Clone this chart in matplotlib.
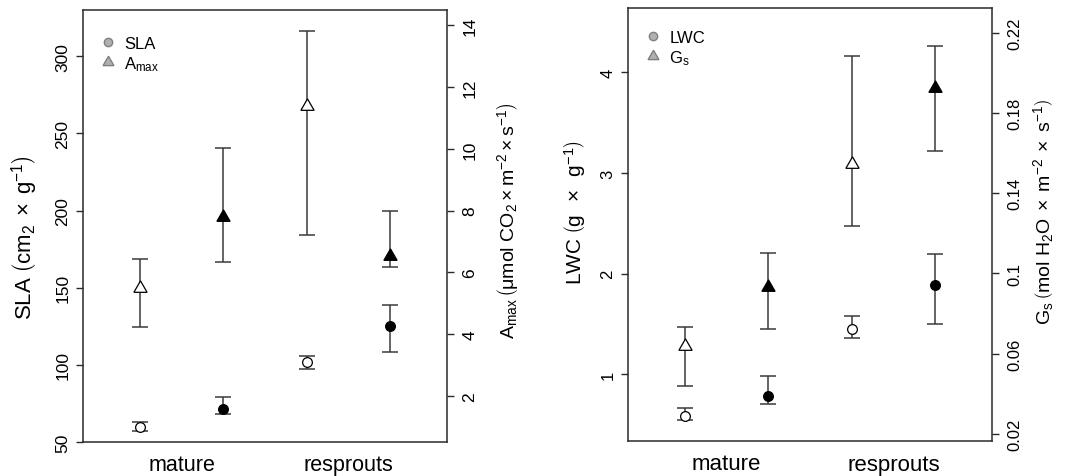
import matplotlib
matplotlib.use("Agg")
import matplotlib.pyplot as plt
from matplotlib.lines import Line2D

plt.rcParams['font.family'] = ['Liberation Sans', 'DejaVu Sans']
plt.rcParams['mathtext.fontset'] = 'custom'
plt.rcParams['mathtext.rm'] = 'Liberation Sans'
plt.rcParams['mathtext.it'] = 'Liberation Sans:italic'
plt.rcParams['mathtext.bf'] = 'Liberation Sans:bold'

# four groups per panel: open / filled symbols
positions = [1, 2, 3, 4]
filled = [False, True, False, True]
groups = ['mature', 'resprouts']
group_pos = [1.5, 3.5]

# left panel
sla_mean = [59.7, 71.4, 101.7, 125.4]
sla_lo = [56.9, 68.0, 97.3, 108.6]
sla_hi = [62.8, 79.0, 106.0, 138.8]
amax_mean = [5.48, 7.79, 11.39, 6.52]
amax_lo = [4.24, 6.33, 7.21, 6.18]
amax_hi = [6.43, 10.03, 13.81, 7.99]
sla_ticks = [50, 100, 150, 200, 250, 300]
amax_ticks = [2, 4, 6, 8, 10, 12, 14]

# right panel
lwc_mean = [0.59, 0.79, 1.45, 1.89]
lwc_lo = [0.55, 0.71, 1.36, 1.50]
lwc_hi = [0.67, 0.98, 1.58, 2.20]
gs_mean = [0.0637, 0.0932, 0.1543, 0.1924]
gs_lo = [0.0438, 0.0724, 0.1236, 0.1608]
gs_hi = [0.0730, 0.1103, 0.2084, 0.2132]
lwc_ticks = [1, 2, 3, 4]
gs_ticks = [0.02, 0.06, 0.1, 0.14, 0.18, 0.22]
gs_ticklabels = ['0.02', '0.06', '0.1', '0.14', '0.18', '0.22']

BAR = '#3a3a3a'
FRAME = '#2a2a2a'
W, H = 1073, 477


def draw_series(ax, mean, lo, hi, marker, ms):
    for x, m, l, h, f in zip(positions, mean, lo, hi, filled):
        ax.errorbar(x, m, yerr=[[m - l], [h - m]], fmt='none', ecolor=BAR,
                    elinewidth=1.1, capsize=5.5, capthick=1.1, zorder=2)
        ax.plot(x, m, marker=marker, ms=ms, ls='',
                mfc='black' if f else 'white', mec='black', mew=0.9, zorder=3)


def make_panel(box, left, right, left_lim, right_lim, left_ticks, right_ticks,
               right_ticklabels, left_label, right_label, legend_labels,
               tick_fs, label_fs, xlab_fs, lab_x, lab_y, leg_top):
    l, r, t, b = box
    ax = fig.add_axes([l / W, 1 - b / H, (r - l) / W, (b - t) / H])
    ax2 = ax.twinx()

    draw_series(ax, *left, marker='o', ms=7)
    draw_series(ax2, *right, marker=(3, 0, 0), ms=11)

    ax.set_xlim(0.32, 4.68)
    ax.set_ylim(*left_lim)
    ax2.set_ylim(*right_lim)

    ax.set_xticks(group_pos, groups, fontsize=xlab_fs)
    ax.tick_params(axis='x', length=0, pad=9)
    ax.set_yticks(left_ticks)
    ax.tick_params(axis='y', labelrotation=90, labelsize=tick_fs, length=5,
                   width=1, color=FRAME, pad=4)
    ax2.set_yticks(right_ticks, right_ticklabels)
    ax2.tick_params(axis='y', labelrotation=90, labelsize=tick_fs, length=5,
                    width=1, color=FRAME, pad=6)
    for lab in ax2.get_yticklabels():
        lab.set_va('center')
    for lab in ax.get_yticklabels():
        lab.set_va('center')

    for s in ax.spines.values():
        s.set_color(FRAME)
        s.set_linewidth(1.1)
    for s in ax2.spines.values():
        s.set_visible(False)

    ax.set_ylabel(left_label, fontsize=label_fs[0], va='center')
    ax.yaxis.set_label_coords(lab_x[0], lab_y[0])
    ax2.set_ylabel(right_label, fontsize=label_fs[1], va='center', rotation=90)
    ax2.yaxis.set_label_coords(lab_x[1], lab_y[1])

    handles = [
        Line2D([], [], marker='o', ls='', ms=6, mfc='#b0b0b0', mec='#808080'),
        Line2D([], [], marker=(3, 0, 0), ls='', ms=9, mfc='#b0b0b0', mec='#808080'),
    ]
    ax2.legend(handles, legend_labels, loc='upper left', frameon=False,
               fontsize=12, handlelength=1.0, handletextpad=0.5,
               labelspacing=0.2, borderpad=0, borderaxespad=0,
               bbox_to_anchor=(0.045, leg_top))
    return ax, ax2


fig = plt.figure(figsize=(W / 100, H / 100), dpi=100)

make_panel((83, 447, 11, 443),
           (sla_mean, sla_lo, sla_hi), (amax_mean, amax_lo, amax_hi),
           (50, 330), (0.5, 14.5), sla_ticks, amax_ticks,
           [str(v) for v in amax_ticks],
           r'SLA$\;\left(\mathrm{cm_2}\;\times\;\mathrm{g^{-1}}\right)$',
           r'A$_{\mathrm{max}}\,\left(\mathrm{μmol\ CO_2\times m^{-2}\times s^{-1}}\right)$',
           ['SLA', r'A$_{\mathrm{max}}$'],
           12.5, (16, 14), 15.5, (-0.16, 1.165), (0.475, 0.515), 0.94)

make_panel((628, 992, 9, 442),
           (lwc_mean, lwc_lo, lwc_hi), (gs_mean, gs_lo, gs_hi),
           (0.338, 4.64), (0.0164, 0.2323), lwc_ticks, gs_ticks, gs_ticklabels,
           r'LWC$\;\left(\mathrm{g}\;\;\times\;\;\mathrm{g^{-1}}\right)$',
           r'G$_{\mathrm{s}}\,\left(\mathrm{mol\ H_2O\;\times\;m^{-2}\;\times\;s^{-1}}\right)$',
           ['LWC', r'G$_{\mathrm{s}}$'],
           12, (15, 14), 16, (-0.145, 1.142), (0.53, 0.53), 0.95)

fig.savefig('out.png', dpi=100)
